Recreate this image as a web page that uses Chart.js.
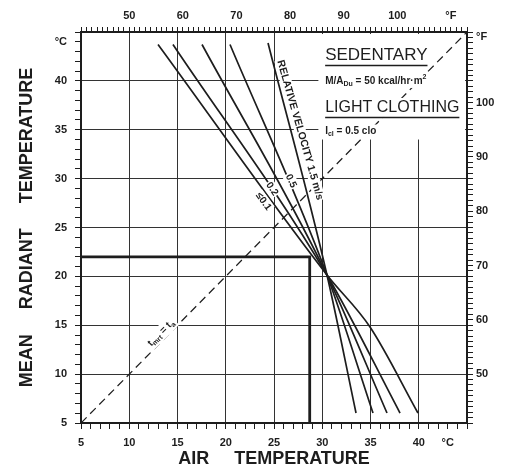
<!DOCTYPE html>
<html>
<head>
<meta charset="utf-8">
<script src="https://cdn.jsdelivr.net/npm/chart.js@4.4.1/dist/chart.umd.min.js"></script>
<style>
  html, body { margin: 0; padding: 0; background: #fff; }
  #wrap { width: 507px; height: 475px; }
</style>
</head>
<body>
<div id="wrap"><canvas id="chart" width="507" height="475"></canvas></div>
<script>
// Comfort lines, sedentary activity, light clothing

// relative air velocity (m/s) of each comfort line
const velocities = ['≤0.1', '0.2', '0.3', '0.5', '1.5'];

// air temperature (°C) along each line: top, crossing point, (bend), bottom
const lineAirTemp = [
    [12.98, 30.49, 34.95, 39.92],
    [14.53, 30.49, 38.06],
    [17.54, 30.49, 36.71],
    [20.44, 30.49, 35.26],
    [24.38, 30.49, 33.50]
];

// mean radiant temperature (°C) at the same points
const lineMrt = [
    [43.72, 20.14, 14.82, 6.02],
    [43.72, 20.14, 6.02],
    [43.72, 20.14, 6.02],
    [43.72, 20.14, 6.02],
    [43.87, 20.14, 6.02]
];

// reading example: mrt 22 °C -> air 28.7 °C
const exampleAir = [5, 28.7, 28.7];
const exampleMrt = [22, 22, 5];

// t_mrt = t_a
const equalTemp = [5, 45];

// tick labels
const celsiusTicks = [5, 10, 15, 20, 25, 30, 35, 40];
const fahrenheitTicks = [50, 60, 70, 80, 90, 100];

const FONT = '"Liberation Sans", Arial, sans-serif';
const INK = '#1d1d1d';

const isMajor = v => v % 5 === 0 && v > 5 && v < 45;

// draws a run of text pieces [text, size, shift], optional white backing
function write(ctx, px, py, angle, parts, o = {}) {
    ctx.save();
    ctx.translate(px, py);
    ctx.rotate(angle * Math.PI / 180);
    const weight = o.weight || 'bold';
    let w = 0;
    const widths = parts.map(p => {
        ctx.font = `${weight} ${p[1]}px ${FONT}`;
        const m = ctx.measureText(p[0]).width;
        w += m;
        return m;
    });
    const size = parts[0][1];
    let x0 = o.align === 'left' ? 0 : -w / 2;
    const start = x0;
    if (o.bg !== false) {
        const pad = o.pad !== undefined ? o.pad : 1.5;
        ctx.fillStyle = '#fff';
        ctx.fillRect(x0 - pad, -size * 0.5 - pad, w + pad * 2, size + pad * 2);
    }
    ctx.fillStyle = INK;
    ctx.textBaseline = 'middle';
    ctx.textAlign = 'left';
    parts.forEach((p, i) => {
        ctx.font = `${weight} ${p[1]}px ${FONT}`;
        ctx.fillText(p[0], x0, p[2] || 0);
        x0 += widths[i];
    });
    if (o.underline) {
        ctx.strokeStyle = INK;
        ctx.lineWidth = 1.5;
        ctx.beginPath();
        ctx.moveTo(start, size * 0.62);
        ctx.lineTo(start + w, size * 0.62);
        ctx.stroke();
    }
    ctx.restore();
}

const notes = {
    id: 'notes',
    beforeDatasetsDraw(chart) {
        const { ctx, chartArea, scales: { x, y } } = chart;
        // blank panel behind the condition text
        ctx.save();
        ctx.fillStyle = '#fff';
        const l = x.getPixelForValue(29.6);
        const b = y.getPixelForValue(34.0);
        ctx.fillRect(l, chartArea.top + 2, chartArea.right - 2 - l, b - chartArea.top - 2);
        ctx.restore();
    },
    afterDatasetsDraw(chart) {
        const { ctx, scales: { x, y } } = chart;
        const X = v => x.getPixelForValue(v);
        const Y = v => y.getPixelForValue(v);

        write(ctx, X(23.91), Y(27.66), 54, [['≤0.1', 10]], { pad: 1 });
        write(ctx, X(24.79), Y(28.94), 56, [['0.2', 10]], { pad: 1 });
        write(ctx, X(26.76), Y(29.76), 64, [['0.5', 10]], { pad: 1 });
        write(ctx, X(27.69), Y(34.97), 74, [['RELATIVE VELOCITY 1.5 m/s', 10.5]], { pad: 0.5 });

        const bx = X(30.3);
        write(ctx, bx, Y(42.65), 0, [['SEDENTARY', 17]], { align: 'left', weight: 'normal', underline: true });
        write(ctx, bx, Y(39.94), 0, [['M/A', 10], ['Du', 7, 3], [' = 50 kcal/hr·m', 10], ['2', 7, -4]], { align: 'left' });
        write(ctx, bx, Y(37.28), 0, [['LIGHT CLOTHING', 16]], { align: 'left', weight: 'normal', underline: true });
        write(ctx, bx, Y(34.87), 0, [['I', 10], ['cl', 7, 3], [' = 0.5 clo', 10]], { align: 'left' });

        write(ctx, X(13.29), Y(14.21), -45, [['t', 10], ['mrt', 7, 3], [' = t', 10], ['a', 7, 3]], { pad: 2 });
    }
};

const lineSets = velocities.map((v, i) => ({
    label: v + ' m/s',
    data: lineAirTemp[i].map((t, j) => ({ x: t, y: lineMrt[i][j] })),
    showLine: true,
    borderColor: INK,
    borderWidth: 1.7,
    pointRadius: 0,
    cubicInterpolationMode: 'monotone',
    tension: i === 0 ? 0.4 : 0
}));

const datasets = [
    {
        label: 't_mrt = t_a',
        data: equalTemp.map(t => ({ x: t, y: t })),
        showLine: true,
        borderColor: INK,
        borderWidth: 1.2,
        borderDash: [8, 5],
        pointRadius: 0
    },
    ...lineSets,
    {
        label: 'example',
        data: exampleAir.map((t, j) => ({ x: t, y: exampleMrt[j] })),
        showLine: true,
        borderColor: INK,
        borderWidth: 2.8,
        pointRadius: 0
    }
];

const tickFont = { family: FONT, size: 11, weight: 'bold' };
const border = { display: true, color: INK, width: 2 };

function celsiusGrid() {
    return {
        color: c => (c.tick && isMajor(c.tick.value)) ? '#333' : 'rgba(0,0,0,0)',
        tickColor: INK,
        tickLength: 6,
        lineWidth: 1
    };
}

new Chart(document.getElementById('chart'), {
    type: 'scatter',
    data: { datasets },
    options: {
        responsive: false,
        animation: false,
        devicePixelRatio: 1,
        layout: { padding: 0 },
        plugins: { legend: { display: false }, tooltip: { enabled: false } },
        scales: {
            x: {
                type: 'linear', position: 'bottom', min: 5, max: 45,
                border,
                grid: celsiusGrid(),
                ticks: {
                    stepSize: 1, autoSkip: false, maxRotation: 0, minRotation: 0,
                    padding: 7, color: INK, font: tickFont,
                    callback: v => celsiusTicks.includes(v) ? String(v) : (v === 43 ? '°C' : '')
                },
                title: {
                    display: true, text: 'AIR     TEMPERATURE', color: INK,
                    font: { family: FONT, size: 18, weight: 'bold' },
                    padding: { top: 0, bottom: 5 }
                },
                afterFit: s => { s.height = 52; }
            },
            x2: {
                type: 'linear', position: 'top', min: 41, max: 113,
                border,
                grid: { drawOnChartArea: false, tickColor: INK, tickLength: 5 },
                ticks: {
                    stepSize: 1, autoSkip: false, maxRotation: 0, minRotation: 0,
                    padding: 4, color: INK, font: tickFont,
                    callback: v => fahrenheitTicks.includes(v) ? String(v) : (v === 110 ? '°F' : '')
                },
                afterFit: s => { s.height = 32; }
            },
            y: {
                type: 'linear', position: 'left', min: 5, max: 45,
                border,
                grid: celsiusGrid(),
                ticks: {
                    stepSize: 1, autoSkip: false,
                    padding: 8, color: INK, font: tickFont,
                    callback: v => celsiusTicks.includes(v) ? String(v) : (v === 44 ? '°C' : '')
                },
                title: {
                    display: true, text: 'MEAN     RADIANT     TEMPERATURE', color: INK,
                    font: { family: FONT, size: 18, weight: 'bold' },
                    padding: { top: 16, bottom: 0 }
                },
                afterFit: s => { s.width = 81; }
            },
            y2: {
                type: 'linear', position: 'right', min: 41, max: 113,
                border,
                grid: { drawOnChartArea: false, tickColor: INK, tickLength: 6 },
                ticks: {
                    stepSize: 1, autoSkip: false,
                    padding: 3, color: INK, font: tickFont,
                    callback: v => fahrenheitTicks.includes(v) ? String(v) : (v === 112 ? '°F' : '')
                },
                afterFit: s => { s.width = 40; }
            }
        }
    },
    plugins: [notes]
});
</script>
</body>
</html>
